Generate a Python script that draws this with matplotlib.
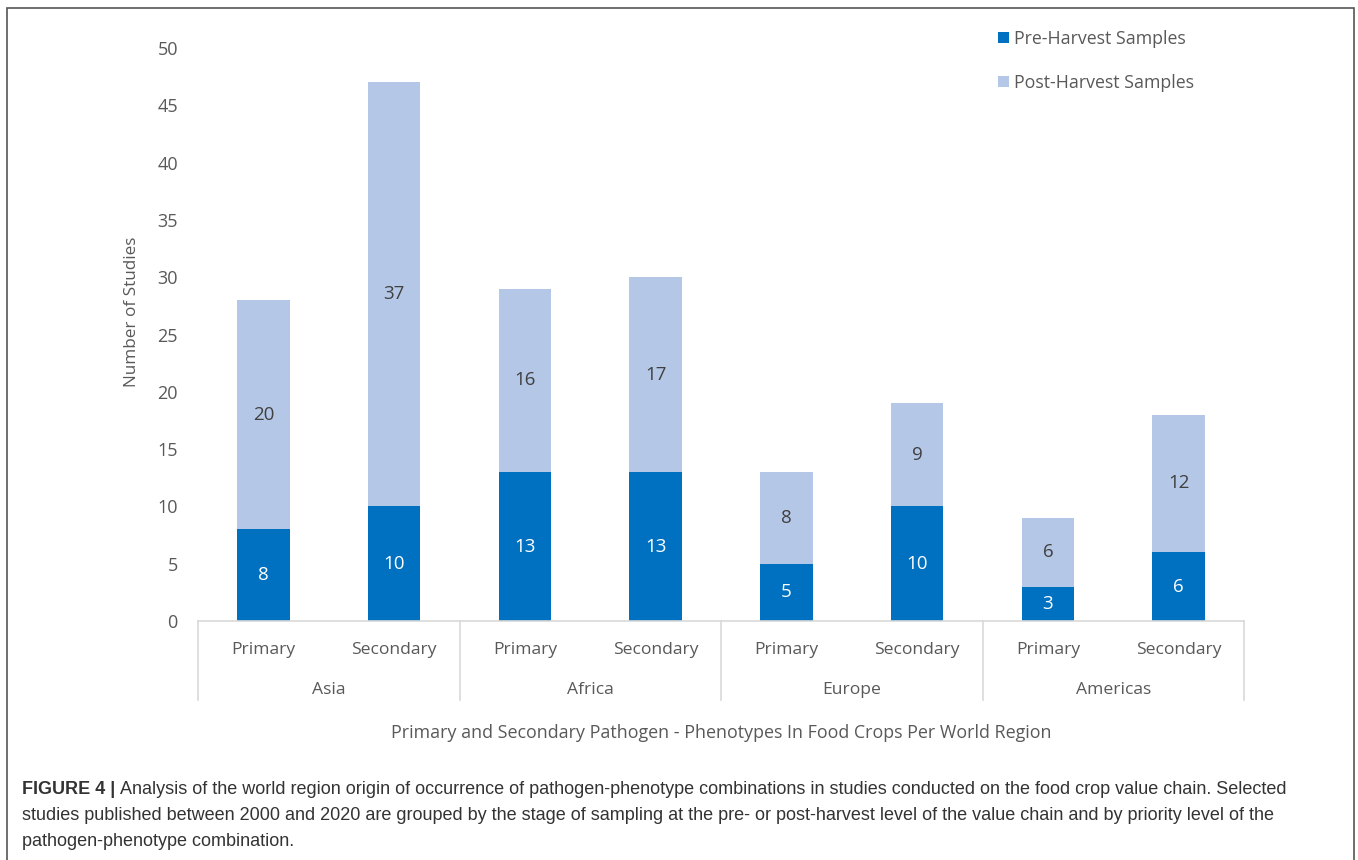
import matplotlib
matplotlib.use("Agg")
import matplotlib.pyplot as plt
from matplotlib.patches import Rectangle
import numpy as np

regions = ["Asia", "Africa", "Europe", "Americas"]
levels = ["Primary", "Secondary"]
pre_harvest = [8, 10, 13, 13, 5, 10, 3, 6]
post_harvest = [20, 37, 16, 17, 8, 9, 6, 12]
yticks = [0, 5, 10, 15, 20, 25, 30, 35, 40, 45, 50]

C_PRE = "#0070C0"
C_POST = "#B4C7E7"
TXT = "#595959"
GRID = "#D9D9D9"
FONT = "Open Sans"

W, H = 1358, 860
fig = plt.figure(figsize=(W / 100, H / 100), dpi=100)
ax = fig.add_axes([198 / W, 1 - 621 / H, 1046 / W, 573 / H])

n = len(pre_harvest)
x = np.arange(n)
bw = 0.4
b1 = ax.bar(x, pre_harvest, bw, color=C_PRE, label="Pre-Harvest Samples")
b2 = ax.bar(x, post_harvest, bw, bottom=pre_harvest, color=C_POST, label="Post-Harvest Samples")

for i in range(n):
    ax.text(x[i], pre_harvest[i] / 2, str(pre_harvest[i]), ha="center", va="center",
            color="white", fontsize=13.5, family=FONT)
    ax.text(x[i], pre_harvest[i] + post_harvest[i] / 2, str(post_harvest[i]), ha="center",
            va="center", color="#404040", fontsize=13.5, family=FONT)

ax.set_xlim(-0.5, n - 0.5)
ax.set_ylim(0, 50)
ax.set_yticks(yticks)
ax.set_yticklabels([str(t) for t in yticks], family=FONT, fontsize=13, color=TXT)
ax.tick_params(axis="y", length=0, pad=14.5)
ax.set_xticks([])
for s in ["top", "right", "left"]:
    ax.spines[s].set_visible(False)
ax.spines["bottom"].set_color(GRID)
ax.spines["bottom"].set_linewidth(1.2)

tr = ax.get_xaxis_transform()
ph = 573.0
for k in range(len(regions) + 1):
    xs = -0.5 + 2 * k
    ax.plot([xs, xs], [0, -79 / ph], color=GRID, lw=1.2, transform=tr, clip_on=False)
for i in range(n):
    ax.text(x[i], -29 / ph, levels[i % 2], ha="center", va="center", transform=tr,
            family=FONT, fontsize=12.6, color=TXT)
for k, r in enumerate(regions):
    ax.text(0.5 + 2 * k, -69 / ph, r, ha="center", va="center", transform=tr,
            family=FONT, fontsize=12.6, color=TXT)
ax.text(0.5, -112 / ph, "Primary and Secondary Pathogen - Phenotypes In Food Crops Per World Region",
        ha="center", va="center", transform=ax.transAxes, family=FONT, fontsize=12.9, color=TXT)
ax.set_ylabel("Number of Studies", family=FONT, fontsize=12.3, color=TXT)
ax.yaxis.set_label_coords(-58 / 1046, (621 - 312) / ph)

fig.legend(handles=[b1, b2], loc="upper left", bbox_to_anchor=(982 / W, 1 - 14 / H),
           frameon=False, handlelength=0.6, handleheight=0.6, handletextpad=0.3,
           labelspacing=1.45, prop={"family": FONT, "size": 12.8}, labelcolor=TXT)

# border
fig.patches.append(Rectangle((7 / W, -0.01), (1354 - 7) / W, 1 - 8 / H + 0.01,
                             transform=fig.transFigure, fill=False, ec="#555555", lw=1.2))

# caption
cap_font = "Liberation Sans"
cap_size = 13.0
cap_col = "#333333"
lines = [
    "Analysis of the world region origin of occurrence of pathogen-phenotype combinations in studies conducted on the food crop value chain. Selected",
    "studies published between 2000 and 2020 are grouped by the stage of sampling at the pre- or post-harvest level of the value chain and by priority level of the",
    "pathogen-phenotype combination.",
]
t0 = fig.text(22 / W, 1 - 789 / H, "FIGURE 4 | ", family=cap_font, fontsize=cap_size,
              weight="bold", color=cap_col, va="center", ha="left")
fig.canvas.draw()
bb = t0.get_window_extent(renderer=fig.canvas.get_renderer())
fig.text(bb.x1 / W, 1 - 789 / H, lines[0], family=cap_font, fontsize=cap_size,
         color=cap_col, va="center", ha="left")
fig.text(22 / W, 1 - 815 / H, lines[1], family=cap_font, fontsize=cap_size,
         color=cap_col, va="center", ha="left")
fig.text(22 / W, 1 - 841 / H, lines[2], family=cap_font, fontsize=cap_size,
         color=cap_col, va="center", ha="left")

fig.savefig("out.png", dpi=100)
